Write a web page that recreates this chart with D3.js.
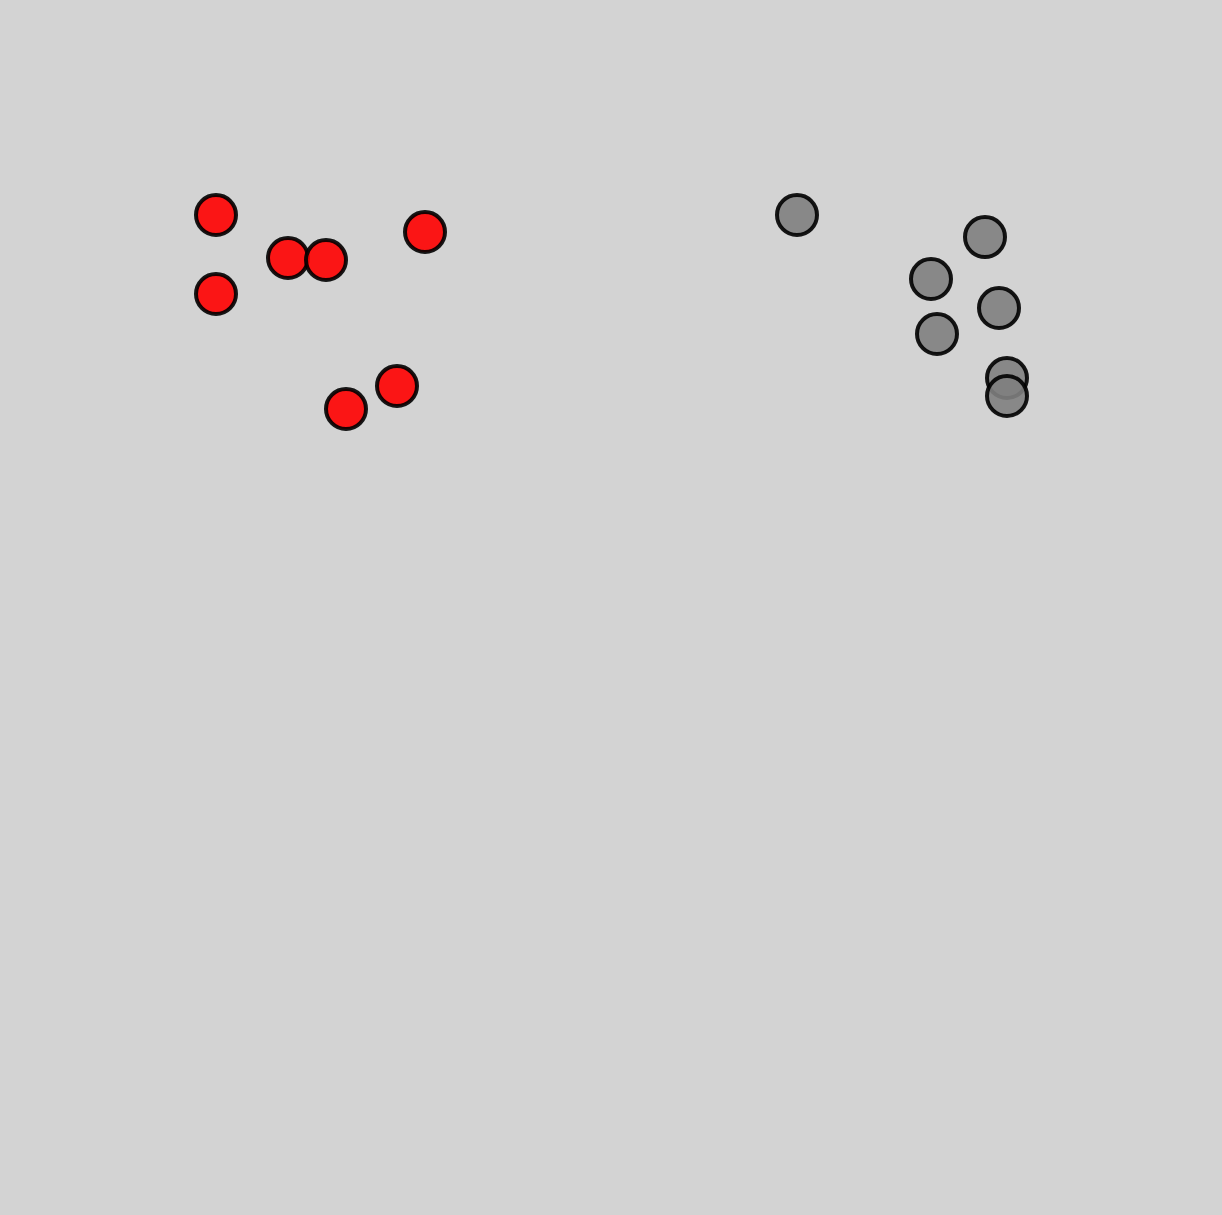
<!DOCTYPE html>
<html>
<head>
<meta charset="utf-8">
<script src="https://cdn.jsdelivr.net/npm/d3@7"></script>
<style>
  html, body { margin: 0; padding: 0; background: #d3d3d3; }
  svg { display: block; }
</style>
</head>
<body>
<script>
// Data (values in chart units)
const groups = ["red", "gray"];
const redX = [216, 216, 288, 326, 425, 397, 346];
const redY = [215, 294, 258, 260, 232, 386, 409];
const grayX = [797, 985, 931, 999, 937, 1007, 1007];
const grayY = [215, 237, 279, 308, 334, 378, 396];

const W = 1222, H = 1215;
const x = d3.scaleLinear().domain([0, 1222]).range([0, W]);
const y = d3.scaleLinear().domain([0, 1215]).range([0, H]);
const color = d3.scaleOrdinal().domain(groups).range(["#ff0000", "#808080"]);

const points = [
  ...redX.map((v, i) => ({ g: "red", x: v, y: redY[i] })),
  ...grayX.map((v, i) => ({ g: "gray", x: v, y: grayY[i] }))
];

const svg = d3.select("body").append("svg")
  .attr("width", W).attr("height", H)
  .style("background", "#d3d3d3");

svg.selectAll("circle")
  .data(points)
  .join("circle")
  .attr("cx", d => x(d.x))
  .attr("cy", d => y(d.y))
  .attr("r", 20)
  .style("fill", d => color(d.g))
  .style("fill-opacity", 0.9)
  .attr("stroke", "black")
  .attr("stroke-width", 4)
  .style("stroke-opacity", 0.9);
</script>
</body>
</html>
